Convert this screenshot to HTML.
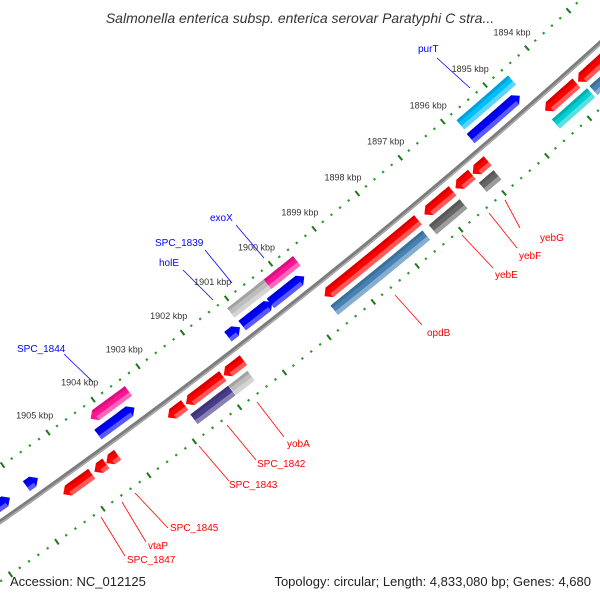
<!DOCTYPE html>
<html><head><meta charset="utf-8"><style>
html,body{margin:0;padding:0;background:#fff;overflow:hidden;width:600px;height:600px;}
svg{display:block;font-family:"Liberation Sans","DejaVu Sans",sans-serif;overflow:hidden;}
</style></head><body>
<svg id="map" width="600" height="600" viewBox="0 0 600 600" xmlns="http://www.w3.org/2000/svg">
<rect width="600" height="600" fill="#fff"/>
<g id="ticks"></g>
<g id="backbone"></g>
<g id="feats"></g>
<g id="labels"></g>
<text x="300" y="23" text-anchor="middle" font-size="14" font-style="italic" fill="#333">Salmonella enterica subsp. enterica serovar Paratyphi C stra...</text>
<text x="10" y="586" font-size="13" fill="#222">Accession: NC_012125</text>
<text x="591" y="586" text-anchor="end" font-size="13" fill="#222">Topology: circular; Length: 4,833,080 bp; Genes: 4,680</text>
</svg>
<script>
// data (kbp)
const tickKbp = [1894,1895,1896,1897,1898,1899,1900,1901,1902,1903,1904,1905];
const featStart = [1894.58,1899.60,1900.27,1903.40, 1894.66,1899.67,1900.40,1901.13,1903.49,1905.62,1906.23,
  1893.00,1893.76,1895.85,1896.22,1896.67,1897.47,1901.44,1901.90,1902.75,1904.23,1904.49,1904.80,
  1893.68,1892.80,1895.88,1896.67,1897.53,1901.50,1901.93];
const featEnd = [1895.80,1900.44,1901.10,1904.24, 1895.82,1900.44,1901.08,1901.40,1904.30,1905.87,1907.20,
  1893.72,1894.50,1896.20,1896.60,1897.32,1899.61,1901.88,1902.72,1903.12,1904.48,1904.74,1905.42,
  1894.51,1893.62,1896.22,1897.38,1899.63,1901.92,1902.77];
const featRow = [-31,-31,-31,-31, -14,-14,-14,-14,-14,-14,-14,
  14,14,14,14,14,14,14,14,14,14,14,14,
  31,31,31,31,31,31,31];
const featColor = ["#00bfff","#ff1493","#bdbdbd","#ff1493", "#0000ff","#0000ff","#0000ff","#0000ff","#0000ff","#0000ff","#0000ff",
  "#ff0000","#ff0000","#ff0000","#ff0000","#ff0000","#ff0000","#ff0000","#ff0000","#ff0000","#ff0000","#ff0000","#ff0000",
  "#00ced1","#4682b4","#666666","#666666","#4682b4","#bdbdbd","#483d8b"];
const featArrow = [0,0,0,1, -1,-1,-1,-1,-1,-1,-1, 1,1,1,1,1,1,1,1,1,1,1,1, 0,0,0,0,0,0,0];
const labelText = ["purT","exoX","SPC_1839","holE","SPC_1844","yebG","yebF","yebE","opdB","yobA","SPC_1842","SPC_1843","SPC_1845","vtaP","SPC_1847"];
const labelColor = ["blue","blue","blue","blue","blue","red","red","red","red","red","red","red","red","red","red"];
// layout (pixels)
const labelLayout = [[418,52,"start",437,58,470,88],[210,221,"start",236,225,264,258],[155,246,"start",205,250,232,283],[159,266,"start",183,270,213,300],[17,352,"start",64,354,93,382],
 [540,241,"start",520,228,505,200],[519,259,"start",517,248,489,213],[495,278,"start",493,268,462,235],[427,336,"start",422,325,395,295],
 [287,447,"start",284,437,257,402],[257,467,"start",256,460,227,425],[229,488,"start",229,481,199,446],[170,531,"start",168,528,135,493],
 [148,549,"start",146,542,122,502],[127,563,"start",125,556,101,517]];

const NS="http://www.w3.org/2000/svg";
const CX=-3488, CY=-4463, R0=6084;
function ang(k){return (49.39+(k-1896)*0.53)*Math.PI/180;}
function pos(k,off){const a=ang(k), r=R0+off; return [CX+r*Math.cos(a), CY+r*Math.sin(a)];}
function mk(tag,attrs,parent){const e=document.createElementNS(NS,tag);for(const k in attrs)e.setAttribute(k,attrs[k]);parent.appendChild(e);return e;}
function arcPts(k1,k2,off,n){const p=[];for(let i=0;i<=n;i++){p.push(pos(k1+(k2-k1)*i/n,off));}return p;}
function ptsStr(p){return p.map(q=>q[0].toFixed(1)+","+q[1].toFixed(1)).join(" ");}
function lighten(hex,f){const n=parseInt(hex.slice(1),16);let r=n>>16,g=(n>>8)&255,b=n&255;r=Math.round(r+(255-r)*f);g=Math.round(g+(255-g)*f);b=Math.round(b+(255-b)*f);return `rgb(${r},${g},${b})`;}
function darken(hex,f){const n=parseInt(hex.slice(1),16);let r=n>>16,g=(n>>8)&255,b=n&255;return `rgb(${Math.round(r*f)},${Math.round(g*f)},${Math.round(b*f)})`;}

// tick rings
const tg=document.getElementById('ticks');
[-45,49].forEach((off,ri)=>{
  for(let t=18900;t<=19100;t+=2){
    const k=t/10;
    const major=(t%10===0);
    const h=major?3.2:1.1;
    const a=pos(k,off-h), b=pos(k,off+h);
    const el=mk('line',{x1:a[0].toFixed(1),y1:a[1].toFixed(1),x2:b[0].toFixed(1),y2:b[1].toFixed(1),stroke:major?"#1a7a1a":"#2a9a2a","stroke-width":major?2:2.2},tg);
    
    
  }
});
tickKbp.forEach(k=>{
  const p=pos(k,-45-21);
  const el=mk('text',{x:(p[0]-1).toFixed(1),y:(p[1]+3).toFixed(1),"text-anchor":"middle","font-size":"9",fill:"#333"},tg);
  el.textContent=k+" kbp";
  
  
});

// backbone
const bg=document.getElementById('backbone');
const bpts=arcPts(1890,1910,0,40);
const bb=mk('polyline',{points:ptsStr(bpts),fill:"none",stroke:"#7d7d7d","stroke-width":4.5},bg);


const bb2=mk('polyline',{points:ptsStr(arcPts(1890,1910,1.3,40)),fill:"none",stroke:"#b0b0b0","stroke-width":1.2},bg);



// features
const fg=document.getElementById('feats');
const HW=6, HEAD=0.11;
for(let i=0;i<featStart.length;i++){
  const s=featStart[i], e=featEnd[i], off=featRow[i], col=featColor[i], ar=featArrow[i];
  let ks=s, ke=e;
  const hd=Math.min(HEAD,(e-s)*0.5);
  if(ar===-1) ks=s+hd;
  if(ar===1) ke=e-hd;
  const n=6;
  let outline=[].concat(arcPts(ks,ke,off-HW,n));
  if(ar===1) outline.push(pos(e,off));
  outline=outline.concat(arcPts(ke,ks,off+HW,n));
  if(ar===-1) outline.push(pos(s,off));
  const g=mk('g',{},fg);
  
  
  const body=mk('polygon',{points:ptsStr(outline),fill:col},g);
  
  
  const lb=[].concat(arcPts(ks,ke,off+HW*0.25,n),arcPts(ke,ks,off+HW,n));
  const l=mk('polygon',{points:ptsStr(lb),fill:lighten(col,0.35)},g);
  
  
  const db=[].concat(arcPts(ks,ke,off-HW,n),arcPts(ke,ks,off-HW*0.5,n));
  const d=mk('polygon',{points:ptsStr(db),fill:darken(col,0.85)},g);
  
  
}

// labels
const lg=document.getElementById('labels');
labelText.forEach((t,i)=>{
  const L=labelLayout[i];
  const ln=mk('line',{x1:L[3],y1:L[4],x2:L[5],y2:L[6],stroke:labelColor[i]==="blue"?"#0000ff":"#ff0000","stroke-width":0.8},lg);
  
  
  const tx=mk('text',{x:L[0],y:L[1],"font-size":"10",fill:labelColor[i]==="blue"?"#0000ff":"#ff0000","text-anchor":L[2]},lg);
  tx.textContent=t;
  
  
});
</script>
</body></html>
